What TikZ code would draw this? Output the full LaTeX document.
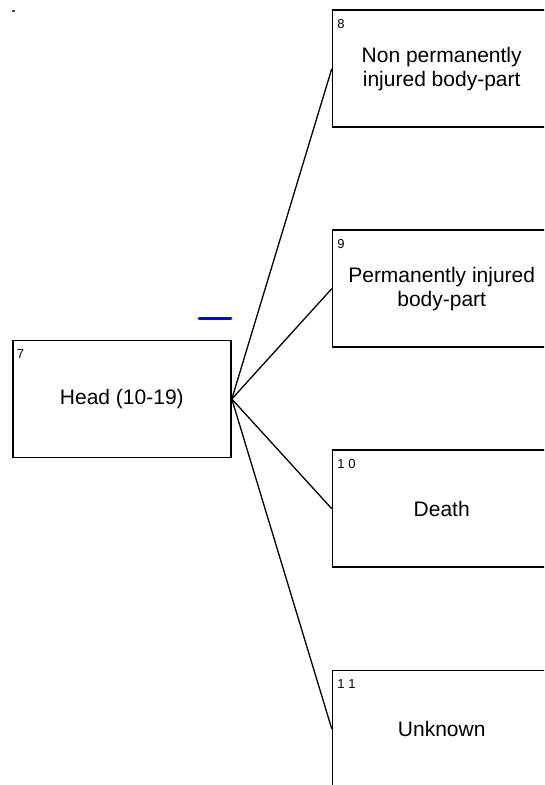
\documentclass[tikz,border=0pt]{standalone}
\usepackage{fontspec}
\setmainfont{Liberation Sans}
\usetikzlibrary{calc}
\tikzset{
  box/.style={draw=black, line width=1.6pt, fill=white, minimum width=218.3pt, minimum height=117pt, inner sep=0pt, align=center, font=\fontsize{21}{24}\selectfont},
  numlbl/.style={anchor=base west, inner sep=0pt, font=\fontsize{13}{15}\selectfont},
  conn/.style={draw=black, line width=1.3pt},
  marker/.style={draw=blue, line width=3pt, line cap=round}
}
\begin{document}
\begin{tikzpicture}[x=1pt, y=-1pt]
\useasboundingbox (0,0) rectangle (544,785);
\clip (0,0) rectangle (544,785);
\fill[black!70] (12,10.3) rectangle (14.7,11.7);
\node[box] (b7) at (121.85,399) {Head (10-19)};
\node[box] (b8) at (441.7,68.75) {Non permanently\\injured body-part};
\node[box] (b9) at (441.7,288.7) {Permanently injured\\body-part};
\node[box] (b10) at (441.7,508.7) {Death};
\node[box] (b11) at (441.7,728.8) {Unknown};
\node[numlbl] (n7) at ($(b7.north west)+(4.8,19)$) {7};
\node[numlbl] (n8) at ($(b8.north west)+(5.5,18.8)$) {8};
\node[numlbl] (n9) at ($(b9.north west)+(5.5,18.8)$) {9};
\node[numlbl] (n10) at ($(b10.north west)+(5.5,18.8)$) {1 0};
\node[numlbl] (n11) at ($(b11.north west)+(5.5,18.8)$) {1 1};
\coordinate (m1) at (199,318.3);
\coordinate (m2) at (231,318.3);
\draw[marker] (m1) -- (m2);
\draw[conn] (b7.east) -- (b8.west);
\draw[conn] (b7.east) -- (b9.west);
\draw[conn] (b7.east) -- (b10.west);
\draw[conn] (b7.east) -- (b11.west);
\end{tikzpicture}
\end{document}
